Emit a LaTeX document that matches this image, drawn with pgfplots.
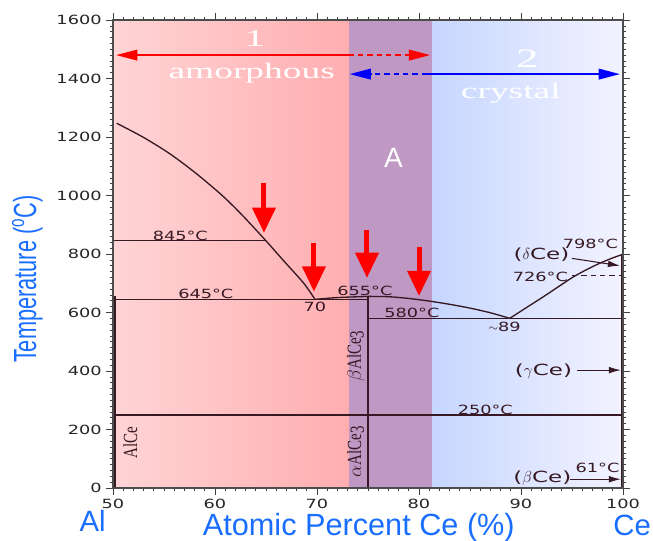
\documentclass[border=0pt]{standalone}
\usepackage{fontspec}
\usepackage{pgfplots}
\pgfplotsset{compat=1.18}
\usetikzlibrary{arrows.meta}
\setmainfont{Liberation Sans}
\newfontfamily\af[FakeStretch=1.4]{DejaVu Sans}
\newfontfamily\afw[FakeStretch=1.5]{DejaVu Sans}
\newfontfamily\serf[FakeStretch=1.7]{Liberation Serif}
\newfontfamily\cmp[FakeStretch=0.75]{Liberation Serif}
\newfontfamily\narrowsans[FakeStretch=0.68]{Liberation Sans}

\definecolor{lbl}{RGB}{25,110,255}
\definecolor{ln}{RGB}{55,25,35}
\definecolor{redA}{RGB}{255,212,214}
\definecolor{redB}{RGB}{255,174,176}
\definecolor{purp}{RGB}{192,152,196}
\definecolor{bluA}{RGB}{198,214,255}
\definecolor{bluB}{RGB}{243,243,255}
\definecolor{arr}{RGB}{255,0,0}

\begin{document}
\begin{tikzpicture}
\begin{axis}[
  name=ax,
  scale only axis, width=382.5pt, height=351pt,
  xmin=50, xmax=100, ymin=0, ymax=1600,
  xtick={50,60,...,100}, ytick={0,200,...,1600},
  minor tick num=9,
  tick align=outside,
  major tick length=5pt, minor tick length=2.5pt,
  tick style={black!75, line width=0.5pt},
  axis line style={black!70, line width=0.8pt},
  ticklabel style={font=\af\fontsize{9.5}{11}\selectfont, text=black!85},
  /pgf/number format/assume math mode=true,
  /pgf/number format/1000 sep={},
  clip=false,
  axis on top,
]
% background regions
\addplot[draw=none, left color=redA, right color=redB] coordinates {(50,0) (73.1,0) (73.1,1600) (50,1600)};
\addplot[draw=none, fill=purp] coordinates {(73.1,0) (81.3,0) (81.3,1600) (73.1,1600)};
\addplot[draw=none, left color=bluA, right color=bluB] coordinates {(81.3,0) (100,0) (100,1600) (81.3,1600)};

% phase boundaries
\addplot[ln, line width=1pt, smooth] coordinates {(50.36,1247) (52.97,1199) (55.6,1142) (58.2,1074) (60.8,997) (62.8,928) (65.0,845) (66.7,778) (68.7,700) (69.8,645)};
\addplot[ln, line width=1pt] coordinates {(50,845) (65.0,845)};
\addplot[ln, line width=1pt] coordinates {(50,645) (75,645)};
\addplot[ln, line width=1pt, smooth] coordinates {(69.8,645) (72,651) (75,655)};
\addplot[ln, line width=1pt, smooth] coordinates {(75,655) (77,654) (79,648) (81,639) (83,628) (85,615) (87,599) (88.9,580)};
\addplot[ln, line width=1pt] coordinates {(75,580) (100,580)};
\addplot[ln, line width=1pt, smooth] coordinates {(88.9,580) (90.5,616) (92.2,654) (93.7,689) (95.1,721) (96.4,746) (97.7,768) (98.8,784) (99.9,798)};
\addplot[ln, line width=1pt] coordinates {(50,250) (100,250)};
\addplot[ln, line width=2pt] coordinates {(50.15,0) (50.15,655)};
\addplot[ln, line width=1.6pt] coordinates {(75,0) (75,655)};
\addplot[ln, line width=2pt] coordinates {(99.9,0) (99.9,798)};
\addplot[ln, line width=1pt, dash pattern=on 4pt off 3pt] coordinates {(95,726) (99.9,726)};
\addplot[ln, line width=0.8pt, -{Latex[length=9pt,width=5pt]}] coordinates {(95,785) (99.7,760)};
\addplot[ln, line width=0.8pt, -{Latex[length=9pt,width=5pt]}] coordinates {(95.5,403) (99.8,403)};
\addplot[ln, line width=0.8pt, -{Latex[length=9pt,width=5pt]}] coordinates {(94.8,30) (99.8,30)};

% annotations
\tikzset{ann/.style={text=ln, font=\af\fontsize{9.5}{11}\selectfont, inner sep=0pt},
         ce/.style={text=ln, font=\afw\fontsize{11.5}{13}\selectfont, inner sep=0pt},
         cmpd/.style={rotate=90, text=ln, font=\cmp\fontsize{15}{17}\selectfont, inner sep=0pt}}
\node[ann] at (axis cs:56.6,862) {845°C};
\node[ann] at (axis cs:59.1,663) {645°C};
\node[ann] at (axis cs:69.8,619) {70};
\node[ann] at (axis cs:74.7,674) {655°C};
\node[ann] at (axis cs:79.3,598) {580°C};
\node[ann] at (axis cs:88.4,550) {$\sim$89};
\node[ann] at (axis cs:96.8,836) {798°C};
\node[ann] at (axis cs:91.9,722) {726°C};
\node[ann] at (axis cs:86.5,267) {250°C};
\node[ann] at (axis cs:97.5,68) {61°C};
\node[ce] at (axis cs:92.0,797) {($\delta$Ce)};
\node[ce] at (axis cs:92.2,400) {($\gamma$Ce)};
\node[ce] at (axis cs:92.1,34) {($\beta$Ce)};
\node[cmpd] at (axis cs:51.7,154) {AlCe};
\node[cmpd] at (axis cs:73.8,451) {$\beta$AlCe\raisebox{-0.3ex}{3}};
\node[cmpd] at (axis cs:73.8,123) {$\alpha$AlCe\raisebox{-0.3ex}{3}};

% region labels
\node[text=white, font=\serf\fontsize{18}{20}\selectfont, anchor=base] at (axis cs:63.9,1508) {1};
\node[text=white, font=\serf\fontsize{16.5}{20}\selectfont, anchor=base] at (axis cs:63.6,1400) {amorphous};
\node[text=white, font=\serf\fontsize{20}{22}\selectfont, anchor=base] at (axis cs:90.6,1439) {2};
\node[text=white, font=\serf\fontsize{16.5}{20}\selectfont, anchor=base] at (axis cs:89.0,1330) {crystal};
\node[text=white, font=\fontsize{21}{24}\selectfont] at (axis cs:77.5,1128) {A};

% red markers
\addplot[arr, line width=3.75pt, -{Triangle[length=19pt,width=17pt]}] coordinates {(64.8,1043) (64.8,872)};
\addplot[arr, line width=3.75pt, -{Triangle[length=19pt,width=17pt]}] coordinates {(69.7,838) (69.7,671)};
\addplot[arr, line width=3.75pt, -{Triangle[length=19pt,width=17pt]}] coordinates {(74.9,882) (74.9,718)};
\addplot[arr, line width=3.75pt, -{Triangle[length=19pt,width=17pt]}] coordinates {(80.0,824) (80.0,656)};

% top range arrows
\addplot[arr, line width=1.3pt, -{Triangle[length=16pt,width=8pt]}] coordinates {(73.1,1480) (50.3,1480)};
\addplot[arr, line width=1.3pt, dash pattern=on 4pt off 3pt, -{Triangle[length=16pt,width=8pt]}] coordinates {(73.1,1480) (81.1,1480)};
\addplot[blue, line width=1.3pt, -{Triangle[length=16pt,width=8pt]}] coordinates {(80.8,1415) (99.7,1415)};
\addplot[blue, line width=1.3pt, dash pattern=on 4pt off 3pt, -{Triangle[length=16pt,width=8pt]}] coordinates {(80.8,1415) (73.2,1415)};

% axis descriptions
\node[rotate=90, text=lbl, font=\narrowsans\fontsize{24}{28}\selectfont] at (axis cs:41.6,714) {Temperature (\textsuperscript{o}C)};
\node[text=lbl, font=\fontsize{23}{26}\selectfont, anchor=base] at (axis cs:74.1,-161) {Atomic Percent Ce (\%)};
\node[text=lbl, font=\fontsize{22}{26}\selectfont, anchor=base] at (axis cs:48.0,-150.4) {Al};
\node[text=lbl, font=\fontsize{22}{26}\selectfont, anchor=base] at (axis cs:100.9,-161) {Ce};
\end{axis}
\pgfresetboundingbox
\path[use as bounding box] ([xshift=-84.75pt,yshift=-39.75pt]ax.south west) rectangle ([xshift=22.5pt,yshift=15pt]ax.north east);
\end{tikzpicture}
\end{document}
